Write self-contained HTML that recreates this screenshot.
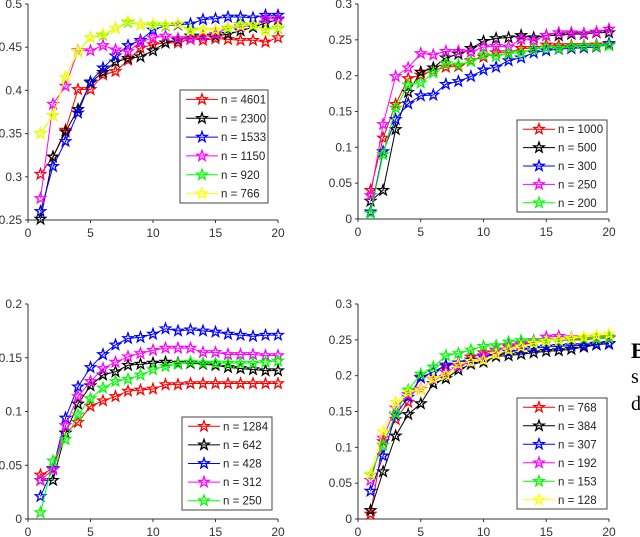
<!DOCTYPE html>
<html><head><meta charset="utf-8"><style>
html,body{margin:0;padding:0;background:#fff;width:640px;height:537px;overflow:hidden}
svg{display:block;font-family:"Liberation Sans",sans-serif}
</style></head><body>
<svg id="c" width="640" height="537" viewBox="0 0 640 537">
<text x="631" y="358" font-family="Liberation Serif,serif" font-weight="bold" font-size="22" fill="#000">B</text>
<text x="631" y="383" font-family="Liberation Serif,serif" font-size="20" fill="#000">s</text>
<text x="631" y="410" font-family="Liberation Serif,serif" font-size="20" fill="#000">d</text>
</svg>
<script>
const xs=[1,2,3,4,5,6,7,8,9,10,11,12,13,14,15,16,17,18,19,20];
const colors=['#ff0000','#000000','#0000ff','#ff00ff','#00ff00','#ffff00'];
const p1Labels=['n = 4601','n = 2300','n = 1533','n = 1150','n = 920','n = 766'];
const p1Red=[.303,.323,.354,.401,.401,.418,.422,.435,.449,.453,.455,.455,.460,.458,.460,.459,.458,.458,.456,.461];
const p1Black=[.251,.323,.352,.378,.409,.421,.433,.437,.439,.446,.455,.458,.463,.463,.463,.465,.469,.473,.478,.482];
const p1Blue=[.260,.312,.341,.374,.410,.426,.440,.452,.458,.470,.475,.476,.477,.482,.483,.485,.485,.484,.487,.487];
const p1Magenta=[.275,.384,.405,.446,.446,.452,.447,.445,.456,.461,.463,.460,.459,.462,.465,.473,.474,.475,.483,.483];
const p1Green=[.350,.371,.415,.445,.461,.464,.472,.479,.476,.476,.475,.477,.470,.470,.470,.472,.476,.475,.470,.472];
const p1Yellow=[.350,.371,.415,.445,.461,.465,.472,.480,.476,.477,.476,.477,.469,.470,.470,.473,.475,.476,.469,.473];
const p1Ticks=[0.25,0.3,0.35,0.4,0.45,0.5];
const p1TickLabels=['0.25','0.3','0.35','0.4','0.45','0.5'];

const p2Labels=['n = 1000','n = 500','n = 300','n = 250','n = 200'];
const p2Red=[.040,.113,.160,.196,.201,.207,.212,.213,.221,.226,.232,.232,.238,.238,.243,.242,.242,.242,.243,.243];
const p2Black=[.025,.040,.125,.177,.205,.211,.225,.230,.238,.248,.252,.253,.256,.253,.256,.256,.258,.258,.260,.260];
const p2Blue=[.010,.094,.139,.161,.172,.173,.188,.192,.199,.208,.212,.221,.225,.232,.235,.237,.238,.239,.240,.245];
const p2Magenta=[.033,.132,.199,.211,.231,.229,.234,.234,.233,.240,.241,.240,.251,.249,.256,.260,.260,.259,.261,.265];
const p2Green=[.008,.090,.155,.187,.190,.204,.217,.215,.220,.229,.227,.231,.232,.237,.239,.238,.240,.241,.241,.242];
const p2Ticks=[0,0.05,0.1,0.15,0.2,0.25,0.3];
const p2TickLabels=['0','0.05','0.1','0.15','0.2','0.25','0.3'];

const p3Labels=['n = 1284','n = 642','n = 428','n = 312','n = 250'];
const p3Red=[.041,.047,.080,.090,.105,.110,.114,.119,.120,.121,.125,.125,.126,.126,.126,.126,.126,.126,.126,.126];
const p3Black=[.036,.036,.080,.107,.124,.134,.137,.143,.144,.145,.146,.145,.145,.144,.143,.141,.140,.139,.138,.138];
const p3Blue=[.021,.047,.094,.123,.141,.153,.162,.168,.169,.172,.177,.175,.176,.175,.174,.172,.171,.170,.171,.171];
const p3Magenta=[.036,.046,.087,.114,.128,.140,.146,.151,.154,.157,.159,.159,.159,.155,.155,.153,.153,.153,.152,.152];
const p3Green=[.006,.054,.074,.097,.112,.122,.128,.130,.134,.139,.142,.144,.146,.145,.145,.145,.145,.145,.146,.147];
const p3Ticks=[0,0.05,0.1,0.15,0.2];
const p3TickLabels=['0','0.05','0.1','0.15','0.2'];

const p4Labels=['n = 768','n = 384','n = 307','n = 192','n = 153','n = 128'];
const p4Red=[.007,.108,.139,.163,.198,.205,.213,.218,.226,.232,.236,.240,.243,.246,.249,.249,.250,.250,.252,.252];
const p4Black=[.012,.066,.116,.146,.161,.189,.196,.208,.216,.219,.227,.228,.230,.232,.234,.235,.237,.240,.243,.245];
const p4Blue=[.039,.088,.145,.170,.197,.205,.215,.218,.222,.226,.230,.233,.236,.238,.240,.241,.242,.242,.244,.244];
const p4Magenta=[.054,.113,.155,.174,.181,.195,.205,.213,.220,.228,.235,.242,.245,.249,.254,.255,.253,.253,.253,.254];
const p4Green=[.062,.103,.147,.180,.202,.212,.228,.231,.236,.241,.242,.247,.249,.248,.249,.249,.251,.252,.252,.253];
const p4Yellow=[.063,.122,.163,.177,.180,.196,.201,.216,.220,.222,.230,.236,.240,.245,.248,.250,.252,.254,.256,.258];
const p4Ticks=[0,0.05,0.1,0.15,0.2,0.25,0.3];
const p4TickLabels=['0','0.05','0.1','0.15','0.2','0.25','0.3'];

const xTicks=[0,5,10,15,20];
const xTickLabels=['0','5','10','15','20'];

const NS='http://www.w3.org/2000/svg';
const svg=document.getElementById('c');
function mk(tag,attrs,parent){const e=document.createElementNS(NS,tag);for(const k in attrs)e.setAttribute(k,attrs[k]);(parent||svg).appendChild(e);return e;}
function star(cx,cy,r){let d='';for(let i=0;i<10;i++){const a=-Math.PI/2+i*Math.PI/5;const rr=i%2?r*0.4:r;d+=(i?'L':'M')+(cx+rr*Math.cos(a)).toFixed(1)+','+(cy+rr*Math.sin(a)).toFixed(1);}return d+'Z';}

function panel(id,box,ymin,ymax,yt,ytl,series,labels,leg){
  const g=mk('g',{});
  
  
  const X=v=>box.x0+(v/20)*(box.x1-box.x0);
  const Y=v=>box.yb-(v-ymin)/(ymax-ymin)*(box.yb-box.yt);
  const ax=mk('path',{d:`M${box.x0},${box.yt}V${box.yb}H${box.x1}`,stroke:'#333',fill:'none','stroke-width':1},g);
  
  
  yt.forEach((v,i)=>{
    mk('line',{x1:box.x0-3,x2:box.x0,y1:Y(v),y2:Y(v),stroke:'#333'},g);
    const t=mk('text',{x:box.x0-6,y:Y(v)+4,'text-anchor':'end','font-size':12,fill:'#333'},g);
    t.textContent=ytl[i];
    
    
  });
  xTicks.forEach((v,i)=>{
    mk('line',{x1:X(v),x2:X(v),y1:box.yb,y2:box.yb+3,stroke:'#333'},g);
    const t=mk('text',{x:X(v),y:box.yb+17,'text-anchor':'middle','font-size':12,fill:'#333'},g);
    t.textContent=xTickLabels[i];
    
    
  });
  series.forEach((s,si)=>{
    const c=colors[si];
    const pl=mk('polyline',{points:xs.map((x,i)=>X(x)+','+Y(s[i])).join(' '),fill:'none',stroke:c,'stroke-width':1},g);
    
    
    xs.forEach((x,i)=>{
      const m=mk('path',{d:star(X(x),Y(s[i]),5.5),fill:'none',stroke:c,'stroke-width':1.3},g);
      
      
    });
  });
  const lg=mk('g',{},g);
  
  
  mk('rect',{x:leg.x,y:leg.y,width:leg.w,height:leg.h,fill:'#fff',stroke:'#444','stroke-width':1},lg);
  const step=leg.h/labels.length;
  labels.forEach((l,i)=>{
    const cy=leg.y+step*(i+0.5);
    const e=mk('g',{},lg);
    
    
    mk('line',{x1:leg.x+6,x2:leg.x+38,y1:cy,y2:cy,stroke:colors[i],'stroke-width':1},e);
    mk('path',{d:star(leg.x+22,cy,5.5),fill:'none',stroke:colors[i],'stroke-width':1.3},e);
    const t=mk('text',{x:leg.x+41,y:cy+4,'font-size':11.5,fill:'#222'},e);
    t.textContent=l;
  });
}
panel('chart-top-left',{x0:28,x1:278,yt:4,yb:220},0.25,0.5,p1Ticks,p1TickLabels,[p1Red,p1Black,p1Blue,p1Magenta,p1Green,p1Yellow],p1Labels,{x:180,y:90,w:88,h:113});
panel('chart-top-right',{x0:358,x1:609,yt:4,yb:219},0,0.3,p2Ticks,p2TickLabels,[p2Red,p2Black,p2Blue,p2Magenta,p2Green],p2Labels,{x:517,y:120,w:90,h:92});
panel('chart-bottom-left',{x0:28,x1:278,yt:304,yb:519},0,0.2,p3Ticks,p3TickLabels,[p3Red,p3Black,p3Blue,p3Magenta,p3Green],p3Labels,{x:182,y:417,w:90,h:93});
panel('chart-bottom-right',{x0:358,x1:609,yt:304,yb:519},0,0.3,p4Ticks,p4TickLabels,[p4Red,p4Black,p4Blue,p4Magenta,p4Green,p4Yellow],p4Labels,{x:517,y:398,w:90,h:111});
</script>
</body></html>
